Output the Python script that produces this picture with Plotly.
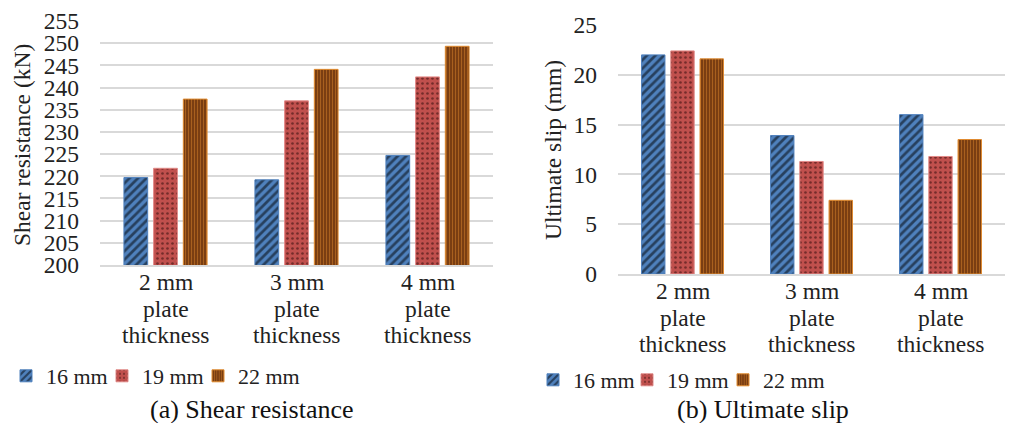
import plotly.graph_objects as go

# Data
category_lines = [["2 mm", "plate", "thickness"],
                  ["3 mm", "plate", "thickness"],
                  ["4 mm", "plate", "thickness"]]
categories = ["<br>".join(lines) for lines in category_lines]
series_names = ["16 mm", "19 mm", "22 mm"]
shear_16 = [219.7, 219.2, 224.7]
shear_19 = [221.8, 237.0, 242.4]
shear_22 = [237.4, 244.1, 249.3]
slip_16 = [22.0, 13.9, 16.0]
slip_19 = [22.4, 11.3, 11.8]
slip_22 = [21.6, 7.4, 13.5]
shear_ticks = list(range(200, 256, 5))
slip_ticks = list(range(0, 26, 5))

FONT = "Liberation Serif"
TXT = "#222222"
GRID = "#d9d9d9"

styles = [
    dict(color="#4f81bd", line=dict(color="#4f81bd", width=1),
         pattern=dict(shape="/", fgcolor="#000000", size=6, solidity=0.45)),
    dict(color="#c0504d", line=dict(color="#e38a88", width=1),
         pattern=dict(shape=".", fgcolor="#2a0808", size=5, solidity=0.22)),
    dict(color="#7a3e12", line=dict(color="#e08a2e", width=1),
         pattern=dict(shape="|", fgcolor="#e08a2e", size=3, solidity=0.3)),
]

W, H = 1012, 423
def px_x(a, b):
    return [a / W, b / W]
def px_y(top, bottom):
    return [(H - bottom) / H, (H - top) / H]
def py(v):
    return (H - v) / H

legend_font = dict(family=FONT, size=22, color=TXT)
# one single-entry legend per series so each entry sits at its own spot
left_legend_x = [6, 102, 198]
right_legend_x = [533, 627, 723]

fig = go.Figure()
legends = {}
for i, (name, vals, st) in enumerate(zip(series_names, [shear_16, shear_19, shear_22], styles)):
    key = "legend" if i == 0 else f"legend{i + 1}"
    fig.add_trace(go.Bar(x=categories, y=vals, name=name, marker=st,
                         xaxis="x", yaxis="y", legend=key, showlegend=True))
    legends[key] = dict(orientation="h", x=left_legend_x[i] / W, y=py(376),
                        xanchor="left", yanchor="middle", font=legend_font,
                        bgcolor="rgba(0,0,0,0)", itemwidth=30)
for i, (name, vals, st) in enumerate(zip(series_names, [slip_16, slip_19, slip_22], styles)):
    key = f"legend{i + 4}"
    fig.add_trace(go.Bar(x=categories, y=vals, name=name, marker=st,
                         xaxis="x2", yaxis="y2", legend=key, showlegend=True))
    legends[key] = dict(orientation="h", x=right_legend_x[i] / W, y=py(380),
                        xanchor="left", yanchor="middle", font=legend_font,
                        bgcolor="rgba(0,0,0,0)", itemwidth=30)

axis_font = dict(family=FONT, size=23.5, color=TXT)

annotations = [
    dict(text="Shear resistance (kN)", textangle=-90, x=22 / W, y=py(145),
         xref="paper", yref="paper", xanchor="center", yanchor="middle",
         showarrow=False, font=dict(family=FONT, size=23.5, color=TXT)),
    dict(text="Ultimate slip (mm)", textangle=-90, x=553 / W, y=py(150),
         xref="paper", yref="paper", xanchor="center", yanchor="middle",
         showarrow=False, font=dict(family=FONT, size=23.5, color=TXT)),
    dict(text="(a) Shear resistance", x=252 / W, y=py(409),
         xref="paper", yref="paper", xanchor="center", yanchor="middle",
         showarrow=False, font=dict(family=FONT, size=26, color="#111111")),
    dict(text="(b) Ultimate slip", x=763 / W, y=py(409),
         xref="paper", yref="paper", xanchor="center", yanchor="middle",
         showarrow=False, font=dict(family=FONT, size=26, color="#111111")),
]

# Category labels, one line per annotation for tighter line spacing
line_rows = {"x": [282, 309, 335], "x2": [291, 318, 344]}
for xref, rows in line_rows.items():
    for cat, lines in zip(categories, category_lines):
        for text, yy in zip(lines, rows):
            annotations.append(dict(
                text=text, x=cat, xref=xref, y=py(yy), yref="paper",
                xanchor="center", yanchor="middle", showarrow=False,
                font=dict(family=FONT, size=23.5, color=TXT)))

fig.update_layout(
    width=W, height=H,
    margin=dict(l=0, r=0, t=0, b=0),
    paper_bgcolor="white", plot_bgcolor="white",
    showlegend=True,
    barmode="group", bargap=0.32, bargroupgap=0.2,
    font=dict(family=FONT, color=TXT),
    xaxis=dict(domain=px_x(100, 493), anchor="y", showticklabels=False,
               showline=True, linecolor=GRID, linewidth=2, ticks="",
               showgrid=False, automargin=False),
    yaxis=dict(domain=px_y(21, 265), anchor="x", range=[200, 255],
               tickvals=shear_ticks, tickfont=axis_font, showgrid=True,
               gridcolor=GRID, gridwidth=2, zeroline=False,
               ticklabelstandoff=20, automargin=False),
    xaxis2=dict(domain=px_x(618, 1005), anchor="y2", showticklabels=False,
                showline=True, linecolor=GRID, linewidth=2, ticks="",
                showgrid=False, automargin=False),
    yaxis2=dict(domain=px_y(25, 274), anchor="x2", range=[0, 25],
                tickvals=slip_ticks, tickfont=axis_font, showgrid=True,
                gridcolor=GRID, gridwidth=2, zeroline=False,
                ticklabelstandoff=20, automargin=False),
    annotations=annotations,
    **legends,
)

fig.write_html("out.html")
